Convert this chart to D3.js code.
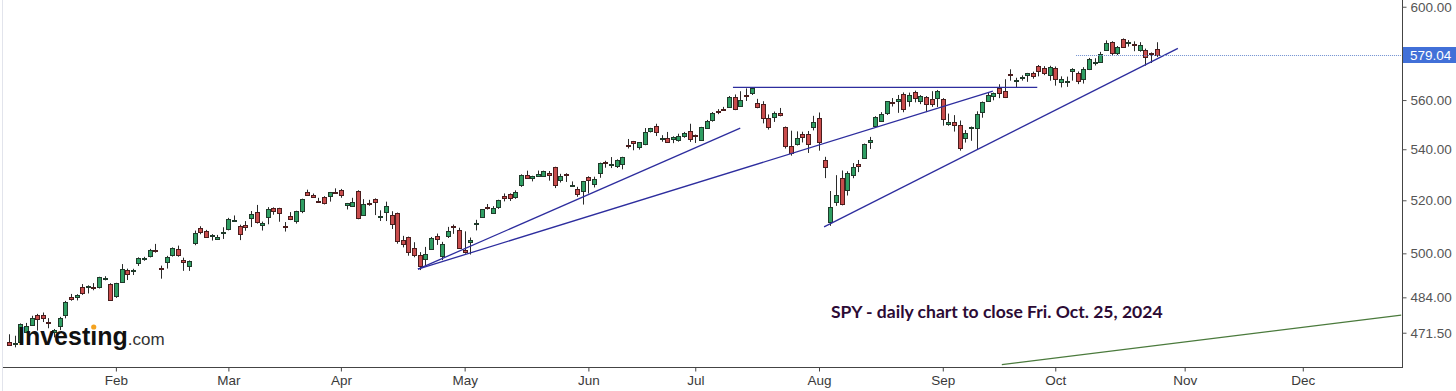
<!DOCTYPE html>
<html><head><meta charset="utf-8">
<script src="https://cdn.jsdelivr.net/npm/d3@7"></script>
<style>html,body{margin:0;padding:0;background:#fff;overflow:hidden}</style>
</head><body><svg id="c" width="1456" height="391"></svg>
<script>
const tradingDates = [
"2024-01-04","2024-01-05","2024-01-08","2024-01-09","2024-01-10","2024-01-11","2024-01-12","2024-01-16","2024-01-17","2024-01-18","2024-01-19","2024-01-22","2024-01-23","2024-01-24","2024-01-25","2024-01-26","2024-01-29","2024-01-30","2024-01-31",
"2024-02-01","2024-02-02","2024-02-05","2024-02-06","2024-02-07","2024-02-08","2024-02-09","2024-02-12","2024-02-13","2024-02-14","2024-02-15","2024-02-16","2024-02-20","2024-02-21","2024-02-22","2024-02-23","2024-02-26","2024-02-27","2024-02-28","2024-02-29",
"2024-03-01","2024-03-04","2024-03-05","2024-03-06","2024-03-07","2024-03-08","2024-03-11","2024-03-12","2024-03-13","2024-03-14","2024-03-15","2024-03-18","2024-03-19","2024-03-20","2024-03-21","2024-03-22","2024-03-25","2024-03-26","2024-03-27","2024-03-28",
"2024-04-01","2024-04-02","2024-04-03","2024-04-04","2024-04-05","2024-04-08","2024-04-09","2024-04-10","2024-04-11","2024-04-12","2024-04-15","2024-04-16","2024-04-17","2024-04-18","2024-04-19","2024-04-22","2024-04-23","2024-04-24","2024-04-25","2024-04-26","2024-04-29","2024-04-30",
"2024-05-01","2024-05-02","2024-05-03","2024-05-06","2024-05-07","2024-05-08","2024-05-09","2024-05-10","2024-05-13","2024-05-14","2024-05-15","2024-05-16","2024-05-17","2024-05-20","2024-05-21","2024-05-22","2024-05-23","2024-05-24","2024-05-28","2024-05-29","2024-05-30","2024-05-31",
"2024-06-03","2024-06-04","2024-06-05","2024-06-06","2024-06-07","2024-06-10","2024-06-11","2024-06-12","2024-06-13","2024-06-14","2024-06-17","2024-06-18","2024-06-20","2024-06-21","2024-06-24","2024-06-25","2024-06-26","2024-06-27","2024-06-28",
"2024-07-01","2024-07-02","2024-07-03","2024-07-05","2024-07-08","2024-07-09","2024-07-10","2024-07-11","2024-07-12","2024-07-15","2024-07-16","2024-07-17","2024-07-18","2024-07-19","2024-07-22","2024-07-23","2024-07-24","2024-07-25","2024-07-26","2024-07-29","2024-07-30","2024-07-31",
"2024-08-01","2024-08-02","2024-08-05","2024-08-06","2024-08-07","2024-08-08","2024-08-09","2024-08-12","2024-08-13","2024-08-14","2024-08-15","2024-08-16","2024-08-19","2024-08-20","2024-08-21","2024-08-22","2024-08-23","2024-08-26","2024-08-27","2024-08-28","2024-08-29","2024-08-30",
"2024-09-03","2024-09-04","2024-09-05","2024-09-06","2024-09-09","2024-09-10","2024-09-11","2024-09-12","2024-09-13","2024-09-16","2024-09-17","2024-09-18","2024-09-19","2024-09-20","2024-09-23","2024-09-24","2024-09-25","2024-09-26","2024-09-27","2024-09-30",
"2024-10-01","2024-10-02","2024-10-03","2024-10-04","2024-10-07","2024-10-08","2024-10-09","2024-10-10","2024-10-11","2024-10-14","2024-10-15","2024-10-16","2024-10-17","2024-10-18","2024-10-21","2024-10-22","2024-10-23","2024-10-24","2024-10-25"
];
const openPrices = [
468.30,467.49,468.43,471.87,474.16,477.59,477.84,475.26,471.82,474.01,477.65,484.01,484.01,487.81,487.58,487.59,487.73,490.56,488.62,
484.63,489.65,493.70,493.52,496.29,498.10,498.84,501.17,494.53,496.79,499.29,501.70,497.72,495.42,504.01,509.27,508.30,506.70,505.33,508.07,
508.98,512.03,510.24,510.55,513.14,515.46,510.48,513.45,517.11,516.97,510.21,514.00,512.15,515.77,523.39,522.11,519.80,521.23,521.71,523.21,
523.83,518.24,517.72,523.52,514.46,519.15,520.50,513.48,515.68,514.37,515.13,504.94,506.05,501.98,499.44,497.83,501.78,506.56,499.18,506.35,510.09,508.56,
501.38,504.15,511.16,513.75,517.56,515.26,517.38,521.81,522.56,521.11,525.83,529.88,528.81,529.57,529.28,530.65,532.96,527.85,530.27,525.68,524.52,523.59,
529.02,526.46,530.77,534.98,533.66,533.18,534.07,541.63,543.15,540.88,542.08,547.16,549.44,544.40,544.33,543.99,543.69,545.37,547.16,
545.63,543.70,548.69,551.77,555.44,556.26,557.07,561.44,557.63,562.03,562.87,558.80,558.51,552.42,553.00,554.54,548.86,541.35,542.28,546.02,546.26,548.98,
552.57,535.75,511.64,519.22,528.47,523.91,529.81,534.21,536.53,542.85,549.50,551.42,554.73,559.15,559.77,562.56,559.53,563.18,559.49,561.21,560.31,560.77,
560.47,550.20,550.89,549.94,544.65,548.36,548.70,555.01,559.71,561.74,565.10,563.74,571.01,567.84,569.34,570.48,571.14,574.38,573.39,570.42,
573.40,567.71,567.36,572.35,571.30,568.66,573.16,575.77,576.05,581.22,584.59,579.78,585.91,584.07,583.85,581.05,581.26,579.98,581.51
];
const highPrices = [
470.96,470.44,474.75,474.93,477.45,478.12,478.60,476.61,472.79,477.06,482.72,485.22,485.11,488.77,488.31,489.12,491.42,491.62,489.08,
489.23,496.05,494.38,494.32,498.53,498.71,501.65,503.50,495.48,499.07,502.20,502.87,498.41,497.37,508.49,510.13,508.75,507.16,506.86,509.74,
513.29,514.20,510.70,512.07,515.89,518.22,511.88,517.38,517.29,517.13,511.70,515.48,516.00,520.62,524.11,522.61,520.95,521.58,523.21,524.61,
524.38,518.98,520.95,523.87,520.44,520.18,520.75,516.16,519.48,515.82,515.30,506.50,506.22,504.13,500.46,502.38,506.09,507.37,504.27,509.88,510.75,509.56,
508.19,505.89,512.55,516.61,518.57,517.74,520.21,522.64,522.67,523.83,530.08,531.52,529.52,531.56,531.52,531.38,533.07,530.27,530.51,527.31,525.20,527.50,
529.31,529.15,534.69,535.42,536.89,535.99,537.01,544.12,543.33,542.81,548.53,548.62,550.28,545.65,546.95,545.20,546.24,546.96,550.28,
545.88,549.01,551.83,555.05,556.25,557.18,561.67,562.33,563.67,564.84,565.16,560.51,559.52,554.08,555.27,556.74,549.17,547.46,547.19,547.05,547.34,553.50,
554.87,536.99,523.58,529.75,531.59,531.29,534.51,535.73,542.28,544.96,553.36,555.02,559.61,560.84,562.11,563.18,563.09,563.91,562.06,561.65,563.68,564.20,
560.81,554.43,553.80,551.60,547.71,549.15,555.36,559.40,563.03,563.11,566.58,568.69,572.88,569.31,570.33,571.36,571.89,574.71,574.22,574.38,
574.06,569.90,569.80,573.36,571.96,573.78,577.71,577.58,580.33,585.27,584.90,582.83,586.12,585.39,584.85,584.50,581.71,580.06,584.46
];
const lowPrices = [
467.05,466.43,468.30,471.35,473.87,472.26,475.23,473.06,469.87,472.42,476.54,482.78,482.89,484.88,485.39,486.54,487.17,490.11,482.86,
483.80,489.30,490.23,492.05,495.36,497.26,498.49,500.24,490.72,494.40,498.80,498.75,493.57,493.56,503.02,507.10,505.86,504.75,504.96,505.35,
508.56,512.00,504.91,508.42,509.81,511.13,508.50,510.86,514.49,511.82,508.12,512.44,511.12,515.08,521.91,520.97,519.61,518.40,519.49,522.78,
520.97,516.48,517.67,512.76,514.01,517.89,514.35,512.09,512.08,509.08,503.58,502.21,499.12,498.56,493.86,495.43,501.53,503.13,497.49,505.70,507.25,501.98,
499.87,499.55,508.56,513.30,516.45,515.14,516.71,519.59,519.74,520.56,525.18,528.54,527.32,529.17,529.07,527.60,524.72,526.88,527.11,525.37,521.33,518.36,
522.60,524.96,528.73,532.68,532.54,532.57,532.05,540.30,539.59,539.85,541.61,546.73,545.30,543.02,542.62,542.44,543.03,544.61,542.95,
542.52,543.65,548.65,551.12,554.19,555.52,556.77,555.83,557.15,559.63,562.10,556.61,550.43,547.91,551.02,553.28,540.29,537.45,541.49,542.72,538.52,547.58,
539.43,528.60,510.27,517.87,518.05,521.84,528.56,530.95,536.28,540.12,548.88,551.26,553.86,557.33,554.73,554.98,557.29,559.05,558.32,555.04,557.18,557.14,
549.51,549.46,547.10,539.44,542.68,543.38,539.96,552.74,559.45,559.90,560.79,560.83,568.08,565.17,568.10,567.60,568.91,569.90,570.42,568.08,
566.00,565.27,565.49,568.10,566.63,566.87,572.55,574.49,575.91,580.73,578.54,578.96,582.16,582.58,580.60,580.38,574.42,575.57,578.08
];
const closePrices = [
467.28,467.92,474.60,473.88,476.56,476.35,476.68,474.93,472.29,476.49,482.43,483.45,484.86,485.39,488.03,487.41,491.27,490.89,482.88,
489.20,494.35,492.55,493.98,498.10,498.32,501.20,500.98,494.08,498.57,502.01,499.51,496.76,497.21,507.50,507.85,505.99,506.93,506.26,508.08,
512.85,512.30,507.18,509.75,514.81,511.72,511.28,516.78,515.97,514.95,509.83,512.86,515.71,520.48,522.20,521.21,519.77,518.81,523.17,523.07,
522.16,518.84,519.41,513.07,518.43,518.72,519.32,514.12,518.00,510.85,504.45,503.53,500.55,499.52,495.16,499.72,505.65,505.41,503.49,508.26,510.06,501.98,
500.35,505.03,511.29,516.57,517.14,517.19,520.17,520.84,520.91,523.30,529.78,528.69,529.45,530.06,531.36,529.83,525.96,529.44,529.81,526.10,522.61,527.37,
527.80,528.39,534.67,534.66,534.01,535.66,536.95,541.36,542.45,542.78,547.10,548.49,547.00,544.51,542.74,544.83,545.51,546.37,544.22,
545.34,549.01,551.46,554.64,555.28,555.82,561.32,556.48,559.99,561.53,564.86,556.94,552.66,548.99,554.65,553.78,541.23,538.41,544.44,544.76,542.00,550.81,
543.01,532.90,517.38,522.15,518.66,530.65,532.99,533.27,542.04,543.75,553.07,554.31,559.61,558.70,560.62,556.22,562.13,560.79,561.56,558.30,558.35,563.68,
552.08,550.95,549.61,540.36,546.41,548.79,554.42,559.09,562.01,562.84,563.07,561.40,570.98,568.25,569.67,571.30,570.04,572.30,571.47,573.76,
568.62,568.86,567.82,572.98,567.80,573.17,577.14,576.13,579.58,584.32,579.78,582.30,582.35,584.59,583.63,583.32,577.99,579.24,579.04
];
const monthLabels = ["Feb","Mar","Apr","May","Jun","Jul","Aug","Sep","Oct","Nov","Dec"];
const priceTicks = [600, 560, 540, 520, 500, 484, 471.5];
const lastPrice = 579.04;
// drawn lines: [date index, price] pairs
const trendUpperApril = [[72.7, 494.2], [130.0, 548.5]];
const trendLowerApril = [[72.7, 494.2], [174.9, 563.7]];
const resistanceJuly = [[128.7, 565.3], [182.8, 565.3]];
const trendAugust = [[144.9, 509.9], [207.8, 581.8]];
const greenLine = [[176.5, 460.5], [247.5, 477.7]];
const lastPriceLineStart = 189.7;
const titleText = "SPY - daily chart to close Fri. Oct. 25, 2024";

// calendar: trading days, then weekdays into the future
const calendar = tradingDates.map(d => new Date(d + "T12:00:00Z"));
{
  let d = new Date(calendar[calendar.length - 1]);
  while (calendar.length < 260) {
    d = new Date(d.getTime() + 86400000);
    const wd = d.getUTCDay();
    if (wd !== 0 && wd !== 6) calendar.push(d);
  }
}
const monthTickIdx = monthLabels.map((m, k) => calendar.findIndex(d => d.getUTCMonth() === k + 1));

const svg = d3.select("#c");
const x = d3.scaleLinear().domain([-1.6, 247.64]).range([0, 1402]);
const y = d3.scaleLog().domain([459.7, 603]).range([367, 0]);

// left border
svg.append("line").attr("x1", 2.5).attr("x2", 2.5).attr("y1", 0).attr("y2", 391)
  .attr("stroke", "#e2e4ec").attr("stroke-width", 1);

// axes
const xAxis = svg.append("g").attr("transform", "translate(0,367.5)")
  .call(d3.axisBottom(x).tickValues(monthTickIdx).tickFormat((d, i) => monthLabels[i]).tickSize(4).tickSizeOuter(0).tickPadding(4));
xAxis.select(".domain").attr("stroke", "#444").attr("d", "M3,0H1402");
xAxis.selectAll(".tick line").attr("stroke", "#444");
xAxis.selectAll("text").attr("fill", "#3a3a3a").attr("font-family", "Liberation Sans, Arial, sans-serif").attr("font-size", "13.5px");

const yAxis = svg.append("g").attr("transform", "translate(1402.5,0)")
  .call(d3.axisRight(y).tickValues(priceTicks).tickFormat(d3.format(".2f")).tickSize(4).tickSizeOuter(0).tickPadding(4));
yAxis.select(".domain").attr("stroke", "#444").attr("d", "M0,0V368");
yAxis.selectAll(".tick line").attr("stroke", "#555");
yAxis.selectAll("text").attr("fill", "#555").attr("font-family", "Liberation Sans, Arial, sans-serif").attr("font-size", "13.5px");

// candles
const candles = svg.append("g");
tradingDates.forEach((d, i) => {
  const o = openPrices[i], h = highPrices[i], l = lowPrices[i], c = closePrices[i];
  const up = c >= o;
  const cx = Math.round(x(i));
  const stroke = up ? "#1f3a2a" : "#4a1d1d";
  candles.append("line").attr("x1", cx + 0.5).attr("x2", cx + 0.5)
    .attr("y1", y(h)).attr("y2", y(l)).attr("stroke", "#2a2a2a").attr("stroke-width", 1);
  const top = Math.round(y(Math.max(o, c)));
  const bot = Math.round(y(Math.min(o, c)));
  const hgt = Math.max(1, bot - top);
  candles.append("rect").attr("x", cx - 1.5).attr("y", top + 0.5).attr("width", 4).attr("height", hgt)
    .attr("fill", up ? "#2f9e63" : "#c94c4c").attr("stroke", stroke).attr("stroke-width", 1);
});

// trend lines
const line = d3.line().x(d => x(d[0])).y(d => y(d[1]));
[trendUpperApril, trendLowerApril, resistanceJuly, trendAugust].forEach(t => {
  svg.append("path").attr("d", line(t)).attr("fill", "none").attr("stroke", "#2d2d9e").attr("stroke-width", 1.3);
});
svg.append("path").attr("d", line(greenLine)).attr("fill", "none").attr("stroke", "#4a7a3c").attr("stroke-width", 1.2);

// last price line and label
svg.append("line").attr("x1", x(lastPriceLineStart)).attr("x2", 1402)
  .attr("y1", Math.round(y(lastPrice)) + 0.5).attr("y2", Math.round(y(lastPrice)) + 0.5)
  .attr("stroke", "#6f8fd0").attr("stroke-width", 1).attr("stroke-dasharray", "1,1");
const ly = Math.round(y(lastPrice));
svg.append("rect").attr("x", 1403).attr("y", ly - 8).attr("width", 53).attr("height", 16).attr("fill", "#4170d8");
svg.append("text").attr("x", 1410).attr("y", ly + 5).text(d3.format(".2f")(lastPrice))
  .attr("fill", "#fff").attr("font-family", "Liberation Sans, Arial, sans-serif").attr("font-size", "13.5px");

// title annotation
const title = svg.append("text").attr("x", 831).attr("y", 318).text(titleText)
  .attr("fill", "#2c0b35").attr("font-family", "Lato, 'Open Sans', sans-serif").attr("font-weight", 700).attr("font-size", "15px");
{
  const w = title.node().getComputedTextLength();
  title.attr("font-size", (15 * 332 / w).toFixed(2) + "px");
}

// logo
const logo = svg.append("text").attr("x", 18).attr("y", 345)
  .attr("font-family", "Liberation Sans, Arial, sans-serif");
logo.append("tspan").attr("font-weight", 700).attr("font-size", "25px").attr("fill", "#111").text("Invest\u0131ng");
logo.append("tspan").attr("font-size", "17px").attr("fill", "#333").text(".com");
{
  const ext = logo.node().getExtentOfChar(6);
  svg.append("circle").attr("cx", ext.x + ext.width / 2).attr("cy", 327).attr("r", 2.6).attr("fill", "#f4a21f");
}
</script></body></html>
